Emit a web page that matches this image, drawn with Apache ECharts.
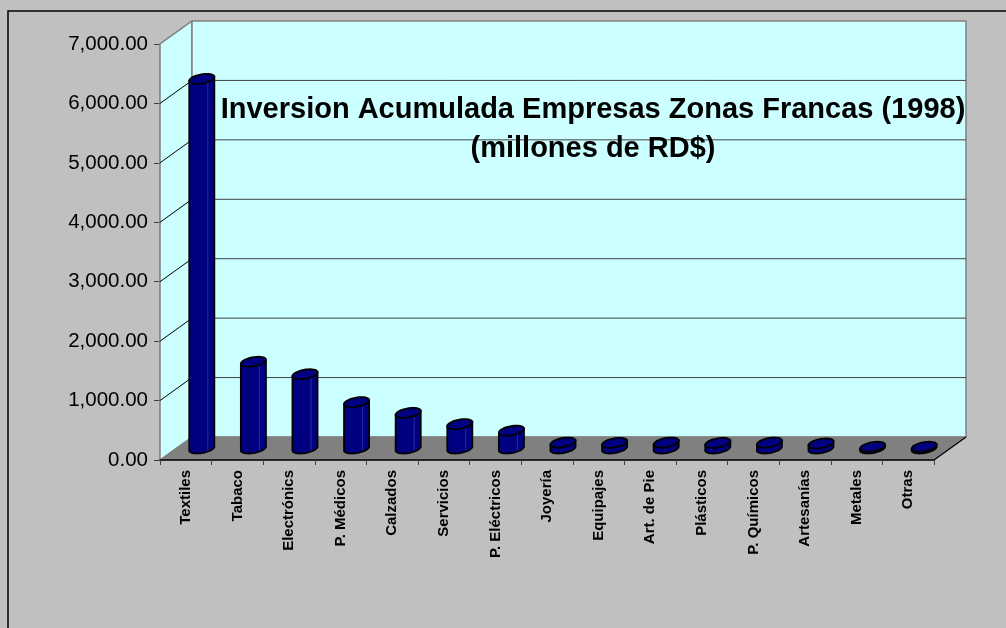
<!DOCTYPE html>
<html style="height: 100%">
<head>
    <meta charset="utf-8">
    <title>Inversion Acumulada Empresas Zonas Francas</title>
    <script src="https://cdn.jsdelivr.net/npm/echarts@6/dist/echarts.min.js"></script>
</head>
<body style="height: 100%; margin: 0">
<div id="container" style="width: 1006px; height: 628px"></div>
<script type="text/javascript">
    // datos (millones de RD$)
    var categories = ['Textiles', 'Tabaco', 'Electrónics', 'P. Médicos', 'Calzados', 'Servicios',
        'P. Eléctricos', 'Joyería', 'Equipajes', 'Art. de Pie', 'Plásticos', 'P. Químicos',
        'Artesanías', 'Metales', 'Otras'];
    var inversion = [6220, 1460, 1250, 780, 600, 410, 300, 100, 95, 100, 95, 100, 85, 30, 30];
    var yTicks = [0, 1000, 2000, 3000, 4000, 5000, 6000, 7000];

    // profundidad del efecto 3D
    var DX = 32, DY = -23;

    function pts(list) { return list.map(function (p) { return [p[0], p[1]]; }); }

    function renderWalls(params, api) {
        var cs = params.coordSys;
        var x0 = cs.x, x1 = cs.x + cs.width;
        var yb = api.coord([0, 0])[1];
        var yt = api.coord([0, 7000])[1];
        var children = [];
        children.push({ type: 'polygon', shape: { points: pts([[x0, yb], [x0 + DX, yb + DY], [x0 + DX, yt + DY], [x0, yt]]) },
            style: { fill: '#CCFFFF', stroke: '#808080', lineWidth: 1.5 } });
        children.push({ type: 'rect', shape: { x: x0 + DX, y: yt + DY, width: x1 - x0, height: yb - yt },
            style: { fill: '#CCFFFF', stroke: '#808080', lineWidth: 1.5 } });
        yTicks.forEach(function (t) {
            if (t === 0 || t === 7000) return;
            var y = api.coord([0, t])[1];
            children.push({ type: 'line', shape: { x1: x0, y1: y, x2: x0 + DX, y2: y + DY },
                style: { stroke: '#000', lineWidth: 1 } });
            children.push({ type: 'line', shape: { x1: x0 + DX, y1: y + DY, x2: x1 + DX, y2: y + DY },
                style: { stroke: '#404040', lineWidth: 1 } });
        });
        children.push({ type: 'polygon', shape: { points: pts([[x0, yb], [x1, yb], [x1 + DX, yb + DY], [x0 + DX, yb + DY]]) },
            style: { fill: '#808080', stroke: '#808080', lineWidth: 1 } });
        children.push({ type: 'line', shape: { x1: x1, y1: yb, x2: x1 + DX, y2: yb + DY },
            style: { stroke: '#000', lineWidth: 1.2 } });
        return { type: 'group', children: children };
    }

    // cilindro oblicuo
    var U = [11.5, 0], V = [5, -5];
    function ell(c, t) {
        return [c[0] + Math.cos(t) * U[0] + Math.sin(t) * V[0], c[1] + Math.cos(t) * U[1] + Math.sin(t) * V[1]];
    }
    function renderBar(params, api) {
        var i = api.value(0), v = api.value(1);
        var b = api.coord([i, 0]), t = api.coord([i, v]);
        var cb = [b[0] + DX / 2, b[1] + DY / 2];
        var ct = [t[0] + DX / 2, t[1] + DY / 2];
        var t0 = Math.atan2(V[0], U[0]);
        var body = [ell(ct, t0)];
        var n = 24;
        for (var k = 0; k <= n; k++) {
            body.push(ell(cb, t0 - Math.PI * k / n));
        }
        body.push(ell(ct, t0 - Math.PI));
        var top = [];
        for (var k2 = 0; k2 < 36; k2++) top.push(ell(ct, Math.PI * 2 * k2 / 36));
        var hx = ct[0] + 6;
        var children = [
            { type: 'polygon', shape: { points: body }, style: { fill: '#000080', stroke: '#000', lineWidth: 1.8 } }
        ];
        if (cb[1] - ct[1] > 6) {
            children.push({ type: 'line', shape: { x1: hx, y1: ct[1] + 2, x2: hx, y2: cb[1] + 2 },
                style: { stroke: '#2A2A98', lineWidth: 1 } });
        }
        children.push({ type: 'polygon', shape: { points: top }, style: { fill: '#000080', stroke: '#000', lineWidth: 1.8 } });
        return { type: 'group', children: children };
    }

    var chart = echarts.init(document.getElementById('container'));
    chart.setOption({
        backgroundColor: '#C0C0C0',
        animation: false,
        title: {
            text: 'Inversion Acumulada Empresas Zonas Francas (1998)\n(millones de RD$)',
            left: 588,
            top: 85,
            textAlign: 'center',
            textStyle: { fontFamily: 'Liberation Sans, Arial', fontSize: 29, fontWeight: 'bold', color: '#000', lineHeight: 39 }
        },
        graphic: [{
            type: 'rect', z: 100, silent: true,
            shape: { x: 8, y: 11, width: 1100, height: 700 },
            style: { fill: 'none', stroke: '#000', lineWidth: 1.5 }
        }],
        grid: { left: 160, top: 44, width: 774, height: 416 },
        xAxis: {
            type: 'category',
            data: categories,
            axisLine: { lineStyle: { color: '#000', width: 1.5 } },
            axisTick: { show: true, length: 5, lineStyle: { color: '#404040' } },
            axisLabel: {
                rotate: 90, margin: 10, interval: 0,
                fontFamily: 'Liberation Sans, Arial', fontSize: 15, fontWeight: 'bold', color: '#000'
            },
            z: 5
        },
        yAxis: {
            type: 'value',
            min: 0, max: 7000, interval: 1000,
            axisLine: { show: true, lineStyle: { color: '#404040', width: 1.2 } },
            axisTick: { show: true, length: 6, lineStyle: { color: '#404040' } },
            splitLine: { show: false },
            axisLabel: {
                margin: 12,
                fontFamily: 'Liberation Sans, Arial', fontSize: 20.5, color: '#000',
                formatter: function (val) {
                    return val.toLocaleString('en-US', { minimumFractionDigits: 2, maximumFractionDigits: 2 });
                }
            }
        },
        series: [
            {
                type: 'custom',
                renderItem: renderWalls,
                data: [[0, 0]],
                z: 1,
                silent: true
            },
            {
                type: 'custom',
                renderItem: renderBar,
                data: inversion.map(function (v, i) { return [i, v]; }),
                z: 3
            }
        ]
    });
</script>
</body>
</html>
